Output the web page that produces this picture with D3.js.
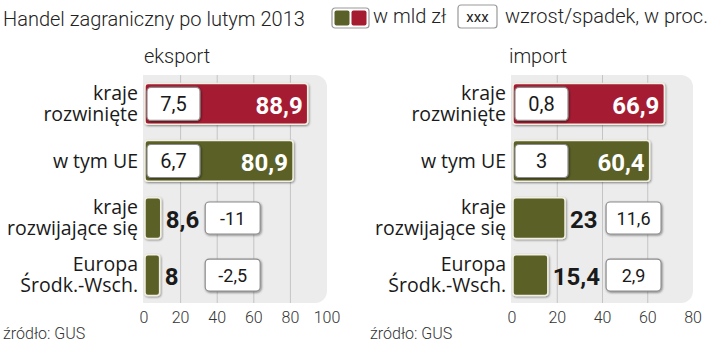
<!DOCTYPE html>
<html>
<head>
<meta charset="utf-8">
<script src="https://cdn.jsdelivr.net/npm/d3@7"></script>
<style>
    body {margin: 0; background: #fff;}
    svg {display: block; font-family: Roboto, "Noto Sans", sans-serif;}
</style>
</head>
<body>
<svg id="chart" width="720" height="342"></svg>
<script>
// data
const categories = [["kraje", "rozwinięte"], ["w tym UE"], ["kraje", "rozwijające się"], ["Europa", "Środk.-Wsch."]];
const highlighted = [true, false, false, false];
const exportValues = [88.9, 80.9, 8.6, 8];
const exportChange = [7.5, 6.7, -11, -2.5];
const importValues = [66.9, 60.4, 23, 15.4];
const importChange = [0.8, 3, 11.6, 2.9];
const exportTicks = [0, 20, 40, 60, 80, 100];
const importTicks = [0, 20, 40, 60, 80];

const RED = "#a51b30", GREEN = "#5a6128", PANEL = "#ececec";
const fmt = v => String(v).replace(".", ",");

const svg = d3.select("#chart");

const defs = svg.append("defs");
const shadow = defs.append("filter").attr("id", "shadow")
    .attr("x", "-20%").attr("y", "-20%").attr("width", "140%").attr("height", "140%");
shadow.append("feDropShadow")
    .attr("dx", 0.8).attr("dy", 1).attr("stdDeviation", 0.9)
    .attr("flood-color", "#000").attr("flood-opacity", 0.45);

// header
svg.append("text").attr("x", 3).attr("y", 26)
    .attr("font-size", 20).attr("font-weight", 300).attr("fill", "#222")
    .text("Handel zagraniczny po lutym 2013");

const sw = svg.append("g").attr("transform", "translate(332,8)");
sw.append("rect").attr("width", 37).attr("height", 20).attr("rx", 3)
    .attr("fill", "#fff").attr("stroke", "#999").attr("stroke-width", 1.2);
sw.append("rect").attr("x", 2.5).attr("y", 2.5).attr("width", 15).attr("height", 15).attr("rx", 2).attr("fill", GREEN);
sw.append("rect").attr("x", 19.5).attr("y", 2.5).attr("width", 15).attr("height", 15).attr("rx", 2).attr("fill", RED);
svg.append("text").attr("x", 373).attr("y", 23)
    .attr("font-size", 20).attr("font-weight", 300).attr("fill", "#222").text("w mld zł");
svg.append("rect").attr("x", 458).attr("y", 5).attr("width", 39).attr("height", 23).attr("rx", 3)
    .attr("fill", "#fff").attr("stroke", "#999").attr("stroke-width", 1.2);
svg.append("text").attr("x", 477.5).attr("y", 22).attr("text-anchor", "middle")
    .attr("font-size", 15).attr("fill", "#222").text("xxx");
svg.append("text").attr("x", 505).attr("y", 23)
    .attr("font-size", 20).attr("font-weight", 300).attr("fill", "#222").text("wzrost/spadek, w proc.");

const y = d3.scaleBand()
    .domain(d3.range(categories.length))
    .range([75, 304])
    .paddingInner(0.285)
    .paddingOuter(0.15);

function drawPanel(opt) {
    const {title, values, change, ticks, x0, x1, titleX, labelX} = opt;
    const x = d3.scaleLinear().domain([0, d3.max(ticks)]).range([x0, x1]);
    const g = svg.append("g").attr("id", title);
    const top = 75, bottom = 303, r = 12;

    const p = d3.path();
    p.moveTo(x0 - 1, top);
    p.lineTo(x1 - r, top);
    p.arcTo(x1, top, x1, top + r, r);
    p.lineTo(x1, bottom - r);
    p.arcTo(x1, bottom, x1 - r, bottom, r);
    p.lineTo(x0 - 1, bottom);
    p.closePath();
    g.append("path").attr("d", p.toString()).attr("fill", PANEL);

    g.selectAll(".grid").data(ticks.slice(1, -1)).enter().append("line")
        .attr("x1", d => x(d)).attr("x2", d => x(d))
        .attr("y1", top).attr("y2", bottom)
        .attr("stroke", "#c4c4c4").attr("stroke-width", 1);

    g.selectAll(".tick").data(ticks).enter().append("text")
        .attr("x", d => x(d)).attr("y", 323).attr("text-anchor", "middle")
        .attr("font-size", 16).attr("font-weight", 300).attr("fill", "#333")
        .text(d => d);

    g.append("text").attr("x", titleX).attr("y", 63).attr("text-anchor", "middle")
        .attr("font-size", 20).attr("font-weight", 300).attr("fill", "#222").text(title);

    // category labels, one text per line
    categories.forEach((lines, i) => {
        const c = y(i) + y.bandwidth() / 2;
        const base = lines.length === 1 ? [c + 7] : [c - 4, c + 17];
        lines.forEach((line, j) => {
            g.append("text").attr("x", labelX).attr("y", base[j]).attr("text-anchor", "end")
                .attr("font-family", "'Open Sans', Roboto, sans-serif")
                .attr("font-size", 19.5).attr("fill", "#1a1a1a").text(line);
        });
    });

    // bars
    g.selectAll(".bar").data(values).enter().append("rect")
        .attr("x", x(0) + 1)
        .attr("y", (d, i) => y(i))
        .attr("width", d => x(d) - x(0))
        .attr("height", y.bandwidth())
        .attr("rx", 3)
        .attr("fill", (d, i) => highlighted[i] ? RED : GREEN)
        .attr("stroke", "#f3f0e2").attr("stroke-width", 1.5)
        .attr("filter", "url(#shadow)");

    const inside = values.map(v => x(v) - x(0) > 100);

    // value labels first, so the box column can follow the outside ones
    let maxEnd = 0;
    values.forEach((v, i) => {
        const c = y(i) + y.bandwidth() / 2;
        if (inside[i]) {
            g.append("text").attr("x", x(v) - 4).attr("y", c + 10).attr("text-anchor", "end")
                .attr("font-size", 24).attr("font-weight", 700).attr("fill", "#fff").text(fmt(v));
        } else {
            const t = g.append("text").attr("x", x(v) + 6).attr("y", c + 10)
                .attr("font-size", 24).attr("font-weight", 700).attr("fill", "#1a1a1a").text(fmt(v));
            maxEnd = Math.max(maxEnd, x(v) + 6 + t.node().getComputedTextLength());
        }
    });

    change.forEach((v, i) => {
        const c = y(i) + y.bandwidth() / 2;
        const bx = inside[i] ? x(0) + 3 : maxEnd + 6;
        const bw = inside[i] ? 53 : 55;
        const bh = inside[i] ? 33 : 32;
        g.append("rect").attr("x", bx).attr("y", c - bh / 2)
            .attr("width", bw).attr("height", bh).attr("rx", 4)
            .attr("fill", "#fff").attr("stroke", "#8c8c8c").attr("stroke-width", 1.2)
            .attr("filter", "url(#shadow)");
        g.append("text").attr("x", bx + bw / 2).attr("y", c + 7).attr("text-anchor", "middle")
            .attr("font-size", inside[i] ? 20 : 18).attr("fill", "#1a1a1a").text(fmt(v));
    });

    svg.append("text").attr("x", opt.sourceX).attr("y", 339)
        .attr("font-size", 16).attr("font-weight", 300).attr("fill", "#333").text("źródło: GUS");
}

drawPanel({title: "eksport", values: exportValues, change: exportChange, ticks: exportTicks,
    x0: 144, x1: 327, titleX: 177, labelX: 138, sourceX: 3});
drawPanel({title: "import", values: importValues, change: importChange, ticks: importTicks,
    x0: 512, x1: 693, titleX: 538, labelX: 506, sourceX: 370});
</script>
</body>
</html>
